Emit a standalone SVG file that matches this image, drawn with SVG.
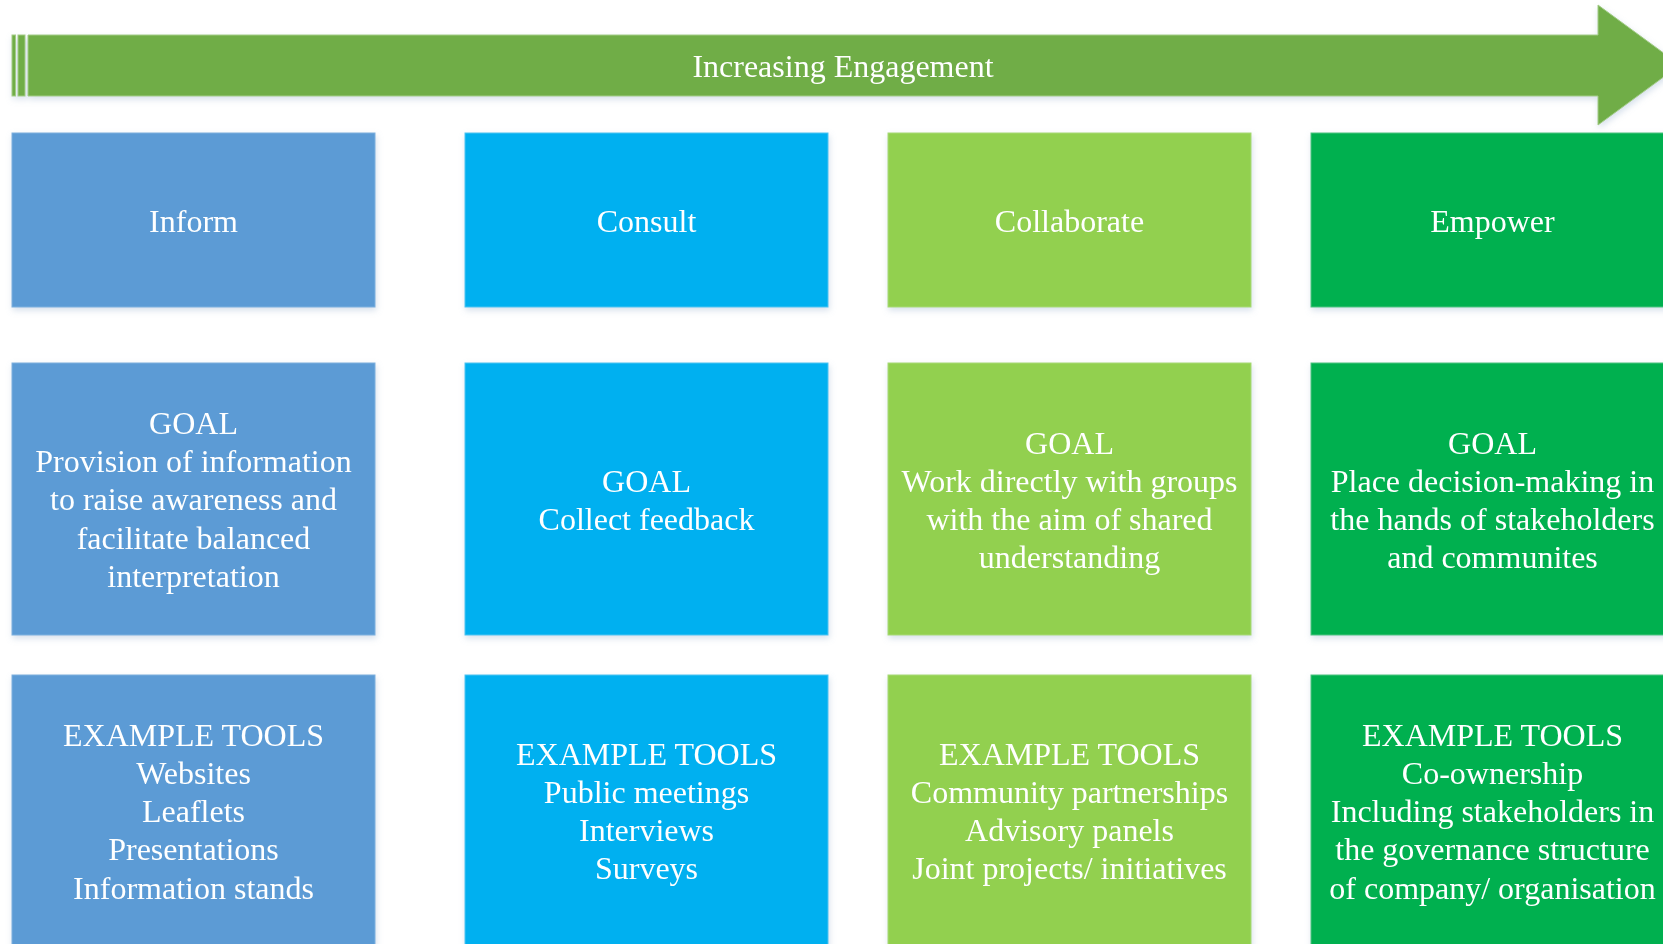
<svg xmlns="http://www.w3.org/2000/svg" width="1663" height="944" viewBox="0 0 1663 944">
  <defs>
    <filter id="soft" x="-5%" y="-5%" width="112%" height="115%">
      <feDropShadow dx="1" dy="3" stdDeviation="3" flood-color="#8fa9c9" flood-opacity="0.35"/>
    </filter>
    <style>
      .lbl { font-family: "Liberation Serif", "Times New Roman", serif; font-size: 32px; fill: #ffffff; text-anchor: middle; }
      .inform { fill: #5b9bd5; stroke: #7eb0de; stroke-width: 1; }
      .consult { fill: #00b0f0; stroke: #4cc4f2; stroke-width: 1; }
      .collab { fill: #92d050; stroke: #a8da75; stroke-width: 1; }
      .empower { fill: #00b050; stroke: #4cc47f; stroke-width: 1; }
      .arrow { fill: #70ad47; stroke: #a3cc86; stroke-width: 1; }
    </style>
  </defs>
  <rect width="1663" height="944" fill="#ffffff"/>

  <!-- progression arrow -->
  <g id="engagement-arrow" filter="url(#soft)">
    <rect class="arrow" x="12" y="35" width="3.5" height="61"/>
    <rect class="arrow" x="18" y="35" width="7" height="61"/>
    <path class="arrow" d="M28 35 H1598 V5 L1680 65 L1598 125 V96 H28 Z"/>
    <text class="lbl" x="843" y="77">Increasing Engagement</text>
  </g>

  <!-- column 1: Inform -->
  <g id="inform-title" filter="url(#soft)">
    <rect class="inform" x="12" y="133" width="363" height="174"/>
    <text class="lbl" x="193.5" y="231.5">Inform</text>
  </g>
  <g id="inform-goal" filter="url(#soft)">
    <rect class="inform" x="12" y="363" width="363" height="272"/>
    <text class="lbl" x="193.5" y="433.7"><tspan x="193.5">GOAL</tspan><tspan x="193.5" dy="38.3">Provision of information</tspan><tspan x="193.5" dy="38.3">to raise awareness and</tspan><tspan x="193.5" dy="38.3">facilitate balanced</tspan><tspan x="193.5" dy="38.3">interpretation</tspan></text>
  </g>
  <g id="inform-tools" filter="url(#soft)">
    <rect class="inform" x="12" y="675" width="363" height="272"/>
    <text class="lbl" x="193.5" y="745.5"><tspan x="193.5">EXAMPLE TOOLS</tspan><tspan x="193.5" dy="38.3">Websites</tspan><tspan x="193.5" dy="38.3">Leaflets</tspan><tspan x="193.5" dy="38.3">Presentations</tspan><tspan x="193.5" dy="38.3">Information stands</tspan></text>
  </g>

  <!-- column 2: Consult -->
  <g id="consult-title" filter="url(#soft)">
    <rect class="consult" x="465" y="133" width="363" height="174"/>
    <text class="lbl" x="646.5" y="231.5">Consult</text>
  </g>
  <g id="consult-goal" filter="url(#soft)">
    <rect class="consult" x="465" y="363" width="363" height="272"/>
    <text class="lbl" x="646.5" y="491.5"><tspan x="646.5">GOAL</tspan><tspan x="646.5" dy="38.3">Collect feedback</tspan></text>
  </g>
  <g id="consult-tools" filter="url(#soft)">
    <rect class="consult" x="465" y="675" width="363" height="272"/>
    <text class="lbl" x="646.5" y="764.5"><tspan x="646.5">EXAMPLE TOOLS</tspan><tspan x="646.5" dy="38.3">Public meetings</tspan><tspan x="646.5" dy="38.3">Interviews</tspan><tspan x="646.5" dy="38.3">Surveys</tspan></text>
  </g>

  <!-- column 3: Collaborate -->
  <g id="collaborate-title" filter="url(#soft)">
    <rect class="collab" x="888" y="133" width="363" height="174"/>
    <text class="lbl" x="1069.5" y="231.5">Collaborate</text>
  </g>
  <g id="collaborate-goal" filter="url(#soft)">
    <rect class="collab" x="888" y="363" width="363" height="272"/>
    <text class="lbl" x="1069.5" y="453.5"><tspan x="1069.5">GOAL</tspan><tspan x="1069.5" dy="38.3">Work directly with groups</tspan><tspan x="1069.5" dy="38.3">with the aim of shared</tspan><tspan x="1069.5" dy="38.3">understanding</tspan></text>
  </g>
  <g id="collaborate-tools" filter="url(#soft)">
    <rect class="collab" x="888" y="675" width="363" height="272"/>
    <text class="lbl" x="1069.5" y="764.5"><tspan x="1069.5">EXAMPLE TOOLS</tspan><tspan x="1069.5" dy="38.3">Community partnerships</tspan><tspan x="1069.5" dy="38.3">Advisory panels</tspan><tspan x="1069.5" dy="38.3">Joint projects/ initiatives</tspan></text>
  </g>

  <!-- column 4: Empower -->
  <g id="empower-title" filter="url(#soft)">
    <rect class="empower" x="1311" y="133" width="363" height="174"/>
    <text class="lbl" x="1492.5" y="231.5">Empower</text>
  </g>
  <g id="empower-goal" filter="url(#soft)">
    <rect class="empower" x="1311" y="363" width="363" height="272"/>
    <text class="lbl" x="1492.5" y="453.5"><tspan x="1492.5">GOAL</tspan><tspan x="1492.5" dy="38.3">Place decision-making in</tspan><tspan x="1492.5" dy="38.3">the hands of stakeholders</tspan><tspan x="1492.5" dy="38.3">and communites</tspan></text>
  </g>
  <g id="empower-tools" filter="url(#soft)">
    <rect class="empower" x="1311" y="675" width="363" height="272"/>
    <text class="lbl" x="1492.5" y="745.5"><tspan x="1492.5">EXAMPLE TOOLS</tspan><tspan x="1492.5" dy="38.3">Co-ownership</tspan><tspan x="1492.5" dy="38.3">Including stakeholders in</tspan><tspan x="1492.5" dy="38.3">the governance structure</tspan><tspan x="1492.5" dy="38.3">of company/ organisation</tspan></text>
  </g>

  <!-- no connectors between the blocks -->
  <g id="connectors"/>
</svg>
